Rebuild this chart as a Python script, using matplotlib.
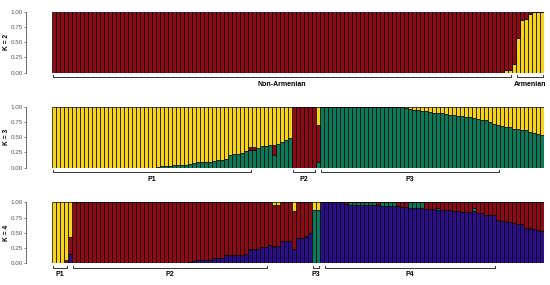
import numpy as np
import matplotlib.pyplot as plt

plt.rcParams['font.family'] = ['Liberation Sans', 'DejaVu Sans']

n_ind = 123

# K = 2 : share of the "Armenian" cluster, the rest is the other cluster
k2_yellow = [0.0] * 113 + [0.04, 0.04, 0.15, 0.57, 0.87, 0.88, 0.97, 1.0, 1.0, 1.0]

# K = 3 : green and red, yellow is what is left
k3_green = ([0.0] * 26 +
            [0.01, 0.02, 0.03, 0.035, 0.04, 0.045, 0.05, 0.05, 0.06, 0.07,
             0.09, 0.09, 0.1, 0.1, 0.11, 0.12, 0.13, 0.14, 0.2, 0.23,
             0.23, 0.24, 0.28, 0.29, 0.29, 0.33, 0.35, 0.36, 0.37, 0.21,
             0.39, 0.42, 0.45, 0.49] +
            [0.0] * 6 + [0.1] + [1.0] * 21 +
            [0.98, 0.96, 0.95, 0.94, 0.93, 0.93, 0.92, 0.9, 0.89, 0.89,
             0.88, 0.87, 0.86, 0.85, 0.84, 0.83, 0.83, 0.82, 0.8, 0.79,
             0.78, 0.75, 0.72, 0.7, 0.68, 0.67, 0.66, 0.64, 0.63, 0.62,
             0.61, 0.58, 0.57, 0.55, 0.53])
k3_red = ([0.0] * 49 + [0.05, 0.05] + [0.0] * 4 + [0.17] + [0.0] * 4 +
          [1.0] * 6 + [0.6] + [0.0] * 56)

# K = 4 : blue, green and yellow, red is what is left
k4_blue = ([0.0, 0.0, 0.0, 0.01, 0.15] + [0.0] * 25 +
           [0.01, 0.01, 0.01, 0.01, 0.02, 0.03, 0.05, 0.05, 0.05, 0.05,
            0.08, 0.08, 0.08, 0.13, 0.13, 0.13, 0.13, 0.13, 0.15, 0.22,
            0.23, 0.23, 0.26, 0.26, 0.30, 0.27, 0.28, 0.37, 0.37, 0.37,
            0.23, 0.41, 0.41, 0.43, 0.49, 0.0, 0.0] +
           [1.0] * 6 +
           [0.97, 0.96, 0.96, 0.96, 0.96, 0.95, 0.95, 0.95, 0.95, 0.94,
            0.94, 0.94, 0.94, 0.94, 0.93, 0.92, 0.9, 0.9, 0.9, 0.9,
            0.89, 0.89, 0.89, 0.88, 0.87, 0.87, 0.87, 0.85, 0.85, 0.84,
            0.84, 0.84, 0.85, 0.82, 0.82, 0.8, 0.79, 0.79, 0.71, 0.69,
            0.69, 0.67, 0.66, 0.64, 0.64, 0.58, 0.57, 0.56, 0.55, 0.53])
k4_green = ([0.0] * 49 + [0.01] + [0.0] * 5 + [0.02] + [0.0] * 4 + [0.01] +
            [0.0] * 2 + [0.02, 0.0, 0.87, 0.87] + [0.0] * 7 +
            [0.04, 0.04, 0.04, 0.04, 0.05, 0.05, 0.05, 0.0,
             0.06, 0.06, 0.06, 0.06, 0.0, 0.0, 0.0,
             0.1, 0.1, 0.1, 0.1, 0.0, 0.0, 0.0, 0.03] +
            [0.0] * 8 + [0.05] + [0.0] * 13 + [0.01, 0.0, 0.0, 0.0])
k4_yellow = ([1.0, 1.0, 1.0, 0.95, 0.57] + [0.0] * 50 + [0.05, 0.05] +
             [0.0] * 3 + [0.15] + [0.0] * 4 + [0.13, 0.13] + [0.0] * 56)

# groups: (label, first individual, last individual)
k2_groups = [('Non-Armenian', 0, 114), ('Armenian', 116, 122)]
k3_groups = [('P1', 0, 49), ('P2', 60, 65), ('P3', 67, 111)]
k4_groups = [('P1', 0, 3), ('P2', 5, 53), ('P3', 65, 66), ('P4', 68, 110)]

RED = '#8E0A17'
YELLOW = '#F7D31A'
GREEN = '#0B7A5A'
BLUE = '#2C0E89'

k2_yellow = np.array(k2_yellow)
k2_red = 1 - k2_yellow
k3_green = np.array(k3_green)
k3_red = np.array(k3_red)
k3_yellow = np.clip(1 - k3_green - k3_red, 0, 1)
k4_blue = np.array(k4_blue)
k4_green = np.array(k4_green)
k4_yellow = np.array(k4_yellow)
k4_red = np.clip(1 - k4_blue - k4_green - k4_yellow, 0, 1)

panels = [
    ('K = 2', [(k2_yellow, YELLOW), (k2_red, RED)], k2_groups),
    ('K = 3', [(k3_green, GREEN), (k3_red, RED), (k3_yellow, YELLOW)], k3_groups),
    ('K = 4', [(k4_blue, BLUE), (k4_green, GREEN), (k4_red, RED), (k4_yellow, YELLOW)], k4_groups),
]

fig = plt.figure(figsize=(5.5, 2.85), dpi=100)
bottoms = [0.745, 0.4116, 0.0761]
x = np.arange(n_ind)

for (title, layers, groups), b in zip(panels, bottoms):
    ax = fig.add_axes([52 / 550, b, 492 / 550, 0.214])
    base = np.zeros(n_ind)
    for vals, col in layers:
        ax.bar(x, vals, bottom=base, width=1.0, color=col,
               edgecolor='black', linewidth=0.5)
        base = base + vals
    ax.set_xlim(-0.5, n_ind - 0.5)
    ax.set_ylim(0, 1)
    for s in ['top', 'right', 'bottom']:
        ax.spines[s].set_visible(False)
    ax.spines['left'].set_position(('outward', 18.5))
    ax.spines['left'].set_bounds(0, 1)
    ax.spines['left'].set_color('#555555')
    ax.spines['left'].set_linewidth(0.6)
    ax.set_xticks([])
    ax.set_yticks([0, 0.25, 0.5, 0.75, 1.0])
    ax.set_yticklabels(['0.00', '0.25', '0.50', '0.75', '1.00'])
    ax.tick_params(axis='y', labelsize=4.5, length=1.5, width=0.5,
                   colors='#555555', pad=1)
    fig.text(7 / 550, b + 0.107, title, rotation=90, fontsize=4.8,
             fontweight='bold', ha='center', va='center')

    for label, first, last in groups:
        x0 = first - 0.3
        x1 = last + 0.3
        ax.plot([x0, x0, x1, x1], [-0.045, -0.078, -0.078, -0.045],
                color='#333333', linewidth=0.7, clip_on=False)
        ax.text((first + last) / 2, -0.19, label, fontsize=5,
                fontweight='bold', ha='center', va='center')

fig.savefig('out.png', dpi=100)
